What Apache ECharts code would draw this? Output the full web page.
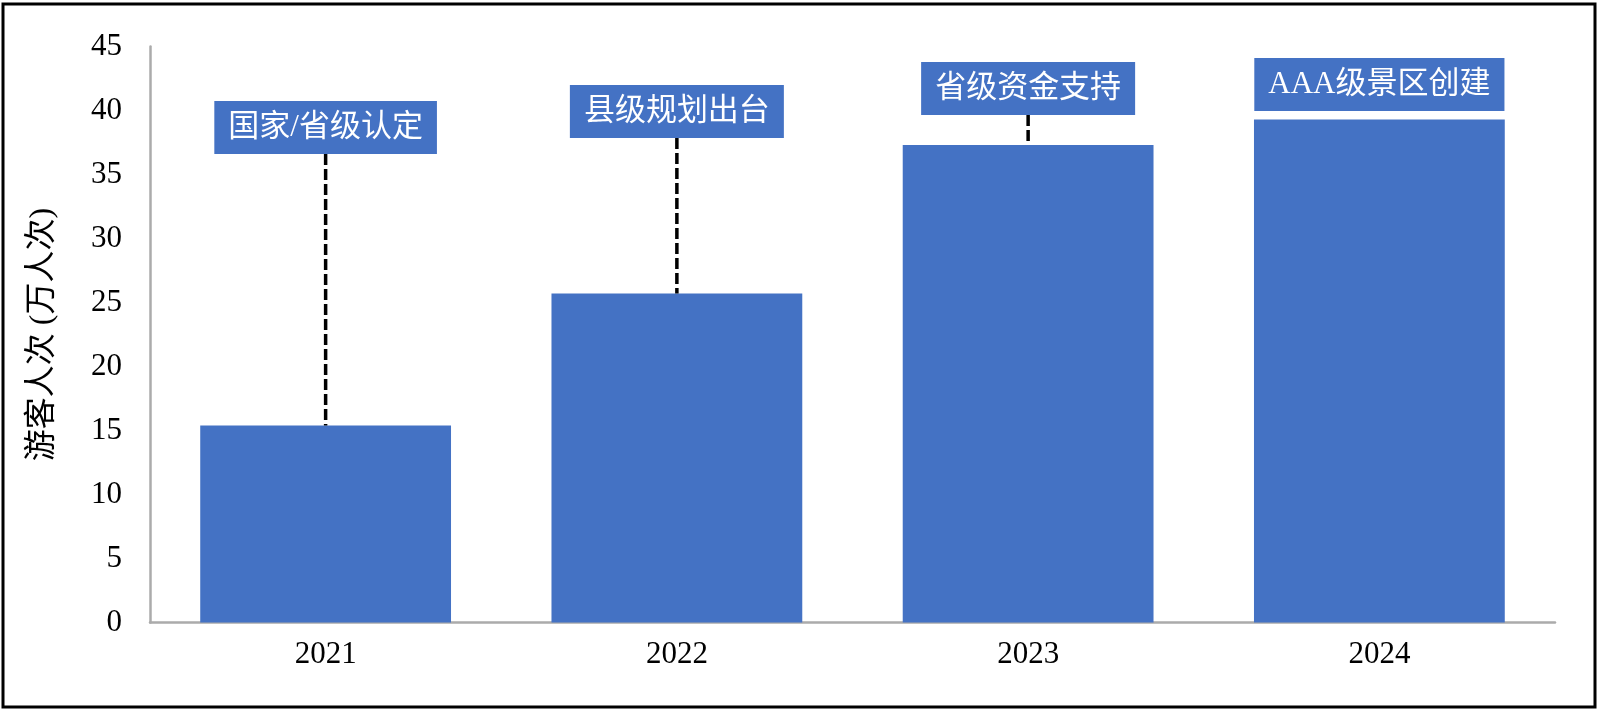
<!DOCTYPE html>
<html>
<head>
<meta charset="utf-8">
<script src="https://cdn.jsdelivr.net/npm/echarts@6/dist/echarts.min.js"></script>
<style>
html,body{margin:0;padding:0;background:#fff;}
#chart{width:1600px;height:712px;}
</style>
</head>
<body>
<div id="chart"></div>
<script>
// ---- data ----
const categories = ['2021', '2022', '2023', '2024'];
const visitors = [15.4, 25.7, 37.3, 39.3];
const milestones = ['国家/省级认定', '县级规划出台', '省级资金支持', 'AAA级景区创建'];
const yTicks = [0, 5, 10, 15, 20, 25, 30, 35, 40, 45];
const yAxisTitle = '游客人次 (万人次)';

// ---- layout (label box bottom edge, in axis units) ----
const labelBottoms = [36.6, 37.85, 39.65, 39.96];

const BLUE = '#4472C4';
const SERIF = '"Liberation Serif", "Noto Sans CJK SC", serif';
const LABELFONT = '31px "Liberation Serif", "Noto Sans CJK SC", sans-serif';

const chart = echarts.init(document.getElementById('chart'), null, {renderer: 'canvas'});

const annData = categories.map((c, i) => [i, visitors[i], labelBottoms[i], milestones[i]]);

chart.setOption({
  animation: false,
  backgroundColor: '#fff',
  grid: {left: 150, right: 45, top: 46.5, bottom: 89.5, containLabel: false},
  xAxis: {
    type: 'category',
    data: categories,
    axisLine: {show: true, lineStyle: {color: '#ABABAB', width: 2.5}},
    axisTick: {show: false},
    axisLabel: {color: '#000', fontFamily: SERIF, fontSize: 31, margin: 17}
  },
  yAxis: {
    type: 'value',
    min: yTicks[0],
    max: yTicks[yTicks.length - 1],
    interval: yTicks[1] - yTicks[0],
    name: yAxisTitle,
    nameLocation: 'middle',
    nameGap: 91,
    nameRotate: 90,
    nameTextStyle: {color: '#000', fontFamily: SERIF, fontSize: 32},
    axisLine: {show: true, lineStyle: {color: '#ABABAB', width: 2.5}},
    axisTick: {show: false},
    splitLine: {show: false},
    axisLabel: {color: '#000', fontFamily: SERIF, fontSize: 31, margin: 28}
  },
  series: [
    {
      type: 'bar',
      data: visitors,
      barWidth: '71.4%',
      itemStyle: {color: BLUE},
      z: 2
    },
    {
      type: 'custom',
      coordinateSystem: 'cartesian2d',
      data: annData,
      encode: {x: 0, y: 1},
      z: 5,
      renderItem: function (params, api) {
        const idx = api.value(0);
        const top = api.coord([idx, api.value(1)]);
        const lb = api.coord([idx, api.value(2)]);
        const text = milestones[params.dataIndex];
        const children = [];
        if (top[1] - lb[1] > 15) {
          children.push({
            type: 'line',
            shape: {x1: top[0], y1: lb[1], x2: top[0], y2: top[1]},
            style: {stroke: '#000', lineWidth: 3.5, lineDash: [11, 4]}
          });
        }
        children.push({
          type: 'text',
          x: top[0],
          y: lb[1],
          style: {
            text: text,
            font: LABELFONT,
            fill: '#fff',
            align: 'center',
            verticalAlign: 'bottom',
            backgroundColor: BLUE,
            padding: [11, 14, 11, 14],
            lineHeight: 31
          }
        });
        return {type: 'group', children: children};
      }
    }
  ],
  graphic: [
    {
      type: 'rect',
      shape: {x: 3, y: 4, width: 1592, height: 703},
      style: {fill: 'none', stroke: '#000', lineWidth: 3},
      silent: true,
      z: 100
    }
  ]
});
</script>
</body>
</html>
